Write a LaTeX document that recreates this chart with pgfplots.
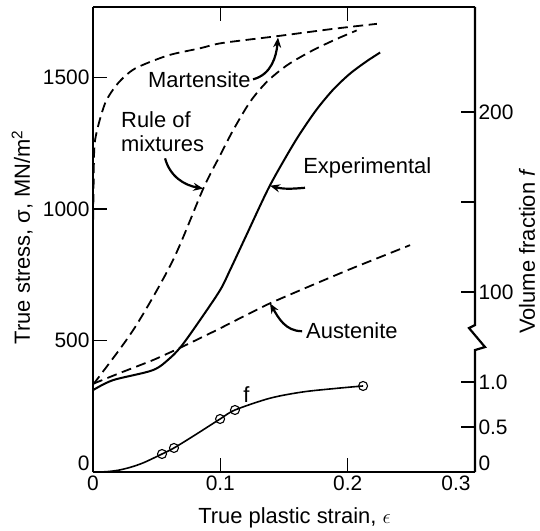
\documentclass[border=0pt]{standalone}
\usepackage{pgfplots}
\pgfplotsset{compat=1.18}
\usepackage{fontspec}
\setmainfont{Liberation Sans}
\usetikzlibrary{arrows.meta}

\pgfplotstableread{
x y
0 900
0.0005 1100
0.0016 1260
0.0094 1400
0.0196 1477
0.033 1533
0.0589 1583
0.084 1610
0.1013 1630
0.1443 1656
0.1888 1684
0.2229 1703
}\martensite

\pgfplotstableread{
x y
0 335
0.004 357
0.033 550
0.0628 805
0.0866 1077
0.0998 1203
0.1102 1300
0.1233 1406
0.1364 1482
0.1522 1545
0.1705 1597
0.1888 1640
0.2071 1678
}\mixtures

\pgfplotstableread{
x y
0 311
0.0157 349
0.047 387
0.0605 433
0.070 482
0.084 577
0.0998 691
0.1076 767
0.12 895
0.1377 1077
0.1522 1203
0.1626 1286
0.1757 1378
0.1888 1454
0.2019 1514
0.215 1561
0.2255 1594
}\experimental

\pgfplotstableread{
x y
0 335
0.021 376
0.047 425
0.068 471
0.097 539
0.139 641
0.2 767
0.249 862
}\austenite

\pgfplotstableread{
x f
0 0
0.01 0.003
0.02 0.02
0.03 0.055
0.04 0.105
0.0542 0.2
0.0636 0.267
0.08 0.41
0.0998 0.589
0.1115 0.689
0.139 0.82
0.165 0.89
0.1917 0.93
0.2121 0.956
}\fcurve

\pgfplotstableread{
x f
0.0542 0.2
0.0636 0.267
0.0998 0.589
0.1115 0.689
0.2121 0.956
}\fpoints

\tikzset{
  arr/.style={black, line width=2.2bp, -{Stealth[length=10bp,width=8bp]}},
  dsh/.style={black, line width=1.8bp, dash pattern=on 10bp off 5.5bp},
}

\begin{document}
\begin{tikzpicture}[font=\fontsize{22}{24}\selectfont]
\pgfplotsset{
  common/.style={
    scale only axis, width=382bp, height=465bp,
    xmin=0, xmax=0.3,
    tick align=inside,
    major tick length=14bp,
    major tick style={black, line width=1.4bp},
    scaled ticks=false,
    /pgf/number format/assume math mode=true,
    tick label style={font=\fontsize{21}{24}\selectfont},
    label style={font=\fontsize{22}{24}\selectfont},
  },
}
\begin{axis}[common,
  ymin=0, ymax=1767,
  axis x line*=box, axis y line*=left,
  x axis line style={-, line width=2.4bp},
  y axis line style={-, line width=2.6bp},
  xtick={0,0.1,0.2}, xticklabels={0,0.1,0.2},
  extra x ticks={0.3}, extra x tick labels={0.3},
  extra x tick style={xticklabel style={xshift=-19bp}, major tick length=0pt},
  ytick={500,1000,1500}, yticklabels={500,1000,1500}, ytick pos=left,
  extra y ticks={0}, extra y tick labels={0},
  extra y tick style={yticklabel style={yshift=9bp}, major tick length=0pt},
  xlabel={True plastic strain, $\epsilon$},
  xlabel style={at={(axis description cs:0.5275,-0.1097)}, anchor=base},
  ylabel={True stress, σ, MN/m\textsuperscript{2}},
  ylabel style={at={(axis description cs:-0.165,0.505)}, anchor=base},
]
\addplot[dsh, smooth, tension=0.45] table[x=x,y=y] {\martensite};
\addplot[dsh, smooth, tension=0.5] table[x=x,y=y] {\mixtures};
\addplot[dsh, smooth, tension=0.3] table[x=x,y=y] {\austenite};
\addplot[black, line width=2bp, smooth, tension=0.5] table[x=x,y=y] {\experimental};

\node[anchor=base west, inner sep=0] at (axis cs:0.0432,1461) {Martensite};
\node[anchor=north west, inner sep=0, align=left] at (axis cs:0.022,1370) {Rule of\\mixtures};
\node[anchor=base west, inner sep=0] at (axis cs:0.165,1135) {Experimental};
\node[anchor=base west, inner sep=0] at (axis cs:0.1673,509) {Austenite};

\draw[arr] (axis cs:0.1257,1492) to[out=15,in=-95] (axis cs:0.1453,1651);
\draw[arr] (axis cs:0.0566,1192) to[out=-75,in=170] (axis cs:0.0866,1077);
\draw[arr] (axis cs:0.1665,1080) to[out=185,in=-15] (axis cs:0.139,1088);
\draw[arr] (axis cs:0.1642,535) to[out=180,in=-60] (axis cs:0.139,641);
\end{axis}

\begin{axis}[common,
  ymin=0, ymax=5.167,
  axis x line=none, axis y line*=right,
  y axis line style={draw=none},
  ytick={0.5,1,2,3,4}, yticklabels={0.5,1.0,100,,200}, ytick pos=right,
  extra y ticks={0}, extra y tick labels={0},
  extra y tick style={yticklabel style={yshift=9bp}, major tick length=0pt},
  clip=false,
]
\addplot[black, line width=1.6bp, smooth, tension=0.5] table[x=x,y=f] {\fcurve};
\addplot[only marks, mark=o, mark size=4.5bp, mark options={black, line width=1.1bp, fill=white}] table[x=x,y=f] {\fpoints};
\node[anchor=base west, inner sep=0] at (axis cs:0.118,0.767) {f};
\draw[line width=2.2bp, line join=miter] (rel axis cs:1,1) -- (rel axis cs:1,0.316)
  -- ++(-6bp,-3bp) -- ++(16bp,-19bp) -- ++(-10bp,-3bp) -- (rel axis cs:1,0);
\node[rotate=90, anchor=base, inner sep=0] at (rel axis cs:1.157,0.475) {Volume fraction \textit{f}};
\end{axis}
\pgfresetboundingbox
\path[use as bounding box] (-93bp,-59bp) rectangle (447bp,472bp);
\end{tikzpicture}
\end{document}
